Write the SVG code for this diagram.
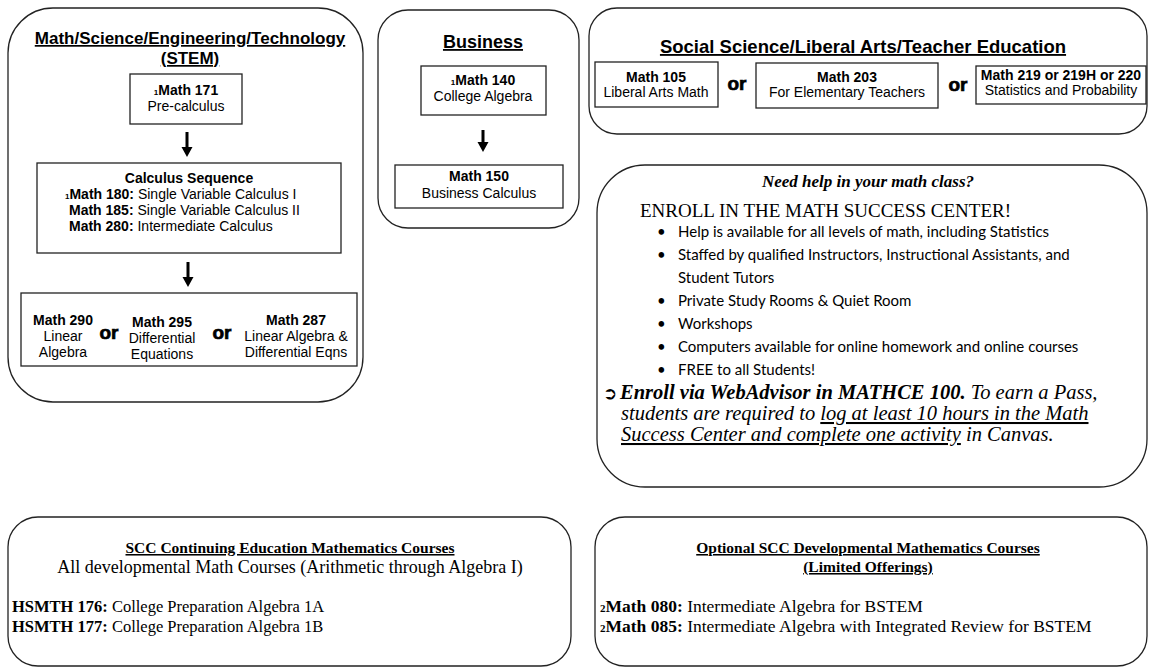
<svg xmlns="http://www.w3.org/2000/svg" width="1149" height="671" viewBox="0 0 1149 671">
<defs>
<style>
.frame{fill:#fff;stroke:#222;stroke-width:1.3}
.box{fill:#fff;stroke:#222;stroke-width:1.3}
.a{font-family:"Liberation Sans",Arial,sans-serif;fill:#000}
.s{font-family:"Liberation Serif","Times New Roman",serif;fill:#000}
.c{font-family:Lato,"Open Sans",sans-serif;fill:#000}
.b{font-weight:bold}
.i{font-style:italic}
.u{text-decoration:underline}
.mid{text-anchor:middle}
.sm{font-size:8px}
.or{font-family:"Liberation Sans",Arial,sans-serif;font-weight:bold;font-size:19px;text-anchor:middle;fill:#000;stroke:#000;stroke-width:0.7}
.arrow{fill:#000}
</style>
</defs>
<rect width="1149" height="671" fill="#fff"/>

<g id="stem">
<rect class="frame" x="8" y="8" width="355" height="394" rx="45"/>
<text class="a b u mid" x="190" y="44" font-size="17">Math/Science/Engineering/Technology</text>
<text class="a b u mid" x="190" y="64" font-size="17">(STEM)</text>
</g>

<g id="math171">
<rect class="box" x="130" y="74" width="112" height="50"/>
<text class="a b mid" x="186" y="95" font-size="14"><tspan class="sm">1</tspan>Math 171</text>
<text class="a mid" x="186" y="111" font-size="14">Pre-calculus</text>
</g>

<g id="calculus">
<rect class="box" x="37" y="163" width="304" height="90"/>
<text class="a b mid" x="189" y="183" font-size="14">Calculus Sequence</text>
<text class="a" x="65" y="199" font-size="14"><tspan class="sm b">1</tspan><tspan class="b">Math 180:</tspan> Single Variable Calculus I</text>
<text class="a" x="69" y="215" font-size="14"><tspan class="b">Math 185:</tspan> Single Variable Calculus II</text>
<text class="a" x="69" y="231" font-size="14"><tspan class="b">Math 280:</tspan> Intermediate Calculus</text>
</g>

<g id="upper-div">
<rect class="box" x="21" y="293" width="336" height="73"/>
<text class="a b mid" x="63" y="325" font-size="14">Math 290</text>
<text class="a mid" x="63" y="341" font-size="14">Linear</text>
<text class="a mid" x="63" y="357" font-size="14">Algebra</text>
<text class="or" x="109" y="339">or</text>
<text class="a b mid" x="162" y="327" font-size="14">Math 295</text>
<text class="a mid" x="162" y="343" font-size="14">Differential</text>
<text class="a mid" x="162" y="359" font-size="14">Equations</text>
<text class="or" x="222" y="339">or</text>
<text class="a b mid" x="296" y="325" font-size="14">Math 287</text>
<text class="a mid" x="296" y="341" font-size="14">Linear Algebra &amp;</text>
<text class="a mid" x="296" y="357" font-size="14">Differential Eqns</text>
</g>

<g id="business">
<rect class="frame" x="378" y="10" width="201" height="218" rx="30"/>
<text class="a b u mid" x="483" y="48" font-size="18">Business</text>
</g>

<g id="math140">
<rect class="box" x="421" y="66" width="125" height="49"/>
<text class="a b mid" x="483" y="85" font-size="14"><tspan class="sm">1</tspan>Math 140</text>
<text class="a mid" x="483" y="101" font-size="14">College Algebra</text>
</g>

<g id="math150">
<rect class="box" x="395" y="165" width="168" height="43"/>
<text class="a b mid" x="479" y="181" font-size="14">Math 150</text>
<text class="a mid" x="479" y="198" font-size="14">Business Calculus</text>
</g>

<g id="social">
<rect class="frame" x="589" y="8" width="558" height="126" rx="28"/>
<text class="a b u mid" x="863" y="53" font-size="18.5">Social Science/Liberal Arts/Teacher Education</text>
<rect class="box" x="595" y="62" width="123" height="45"/>
<text class="a b mid" x="656" y="82" font-size="14">Math 105</text>
<text class="a mid" x="656" y="97" font-size="14">Liberal Arts Math</text>
<text class="or" x="737" y="90">or</text>
<rect class="box" x="756" y="63" width="182" height="45"/>
<text class="a b mid" x="847" y="82" font-size="14">Math 203</text>
<text class="a mid" x="847" y="97" font-size="14">For Elementary Teachers</text>
<text class="or" x="958" y="91">or</text>
<rect class="box" x="976" y="66" width="170" height="38"/>
<text class="a b mid" x="1061" y="80" font-size="14">Math 219 or 219H or 220</text>
<text class="a mid" x="1061" y="95" font-size="14">Statistics and Probability</text>
</g>

<g id="success-center">
<rect class="frame" x="597" y="165" width="550" height="322" rx="48"/>
<text class="s b i mid" x="868" y="187" font-size="17">Need help in your math class?</text>
<text class="s" x="640" y="217" font-size="19">ENROLL IN THE MATH SUCCESS CENTER!</text>
<g class="c" font-size="15">
<text x="657" y="237">•</text><text x="678" y="237">Help is available for all levels of math, including Statistics</text>
<text x="657" y="260">•</text><text x="678" y="260">Staffed by qualified Instructors, Instructional Assistants, and</text>
<text x="678" y="283">Student Tutors</text>
<text x="657" y="306">•</text><text x="678" y="306">Private Study Rooms &amp; Quiet Room</text>
<text x="657" y="329">•</text><text x="678" y="329">Workshops</text>
<text x="657" y="352">•</text><text x="678" y="352">Computers available for online homework and online courses</text>
<text x="657" y="375">•</text><text x="678" y="375">FREE to all Students!</text>
</g>
<text x="603" y="399" font-size="17" font-family="DejaVu Sans,sans-serif" font-weight="bold">➲</text>
<text class="s i" x="620" y="399" font-size="20.5"><tspan class="b">Enroll via WebAdvisor in MATHCE 100.</tspan>  To earn a Pass,</text>
<text class="s i" x="621" y="420" font-size="20.5">students are required to <tspan class="u">log at least 10 hours in the Math</tspan></text>
<text class="s i" x="621" y="441" font-size="20.5"><tspan class="u">Success Center and complete one activity</tspan> in Canvas.</text>
</g>

<g id="continuing-ed">
<rect class="frame" x="8" y="517" width="563" height="149" rx="30"/>
<text class="s b u mid" x="290" y="553" font-size="15.5">SCC Continuing Education Mathematics Courses</text>
<text class="s mid" x="290" y="573" font-size="18">All developmental Math Courses (Arithmetic through Algebra I)</text>
<text class="s" x="12" y="612" font-size="16.5"><tspan class="b">HSMTH 176:</tspan> College Preparation Algebra 1A</text>
<text class="s" x="12" y="632" font-size="16.5"><tspan class="b">HSMTH 177:</tspan> College Preparation Algebra 1B</text>
</g>

<g id="developmental">
<rect class="frame" x="595" y="517" width="552" height="149" rx="30"/>
<text class="s b u mid" x="868" y="553" font-size="15.5">Optional SCC Developmental Mathematics Courses</text>
<text class="s b u mid" x="868" y="572" font-size="15.5">(Limited Offerings)</text>
<text class="s" x="600" y="612" font-size="17.5"><tspan class="b" font-size="11">2</tspan><tspan class="b">Math 080:</tspan> Intermediate Algebra for BSTEM</text>
<text class="s" x="600" y="632" font-size="17.5"><tspan class="b" font-size="11">2</tspan><tspan class="b">Math 085:</tspan> Intermediate Algebra with Integrated Review for BSTEM</text>
</g>

<g id="connectors">
<path class="arrow" d="M185.5,132 h3 v15 h4 l-5.5,10 l-5.5,-10 h4 z"/>
<path class="arrow" d="M186.5,262 h3 v15 h4 l-5.5,10 l-5.5,-10 h4 z"/>
<path class="arrow" d="M481.5,130 h3 v12 h4 l-5.5,10 l-5.5,-10 h4 z"/>
</g>
</svg>
